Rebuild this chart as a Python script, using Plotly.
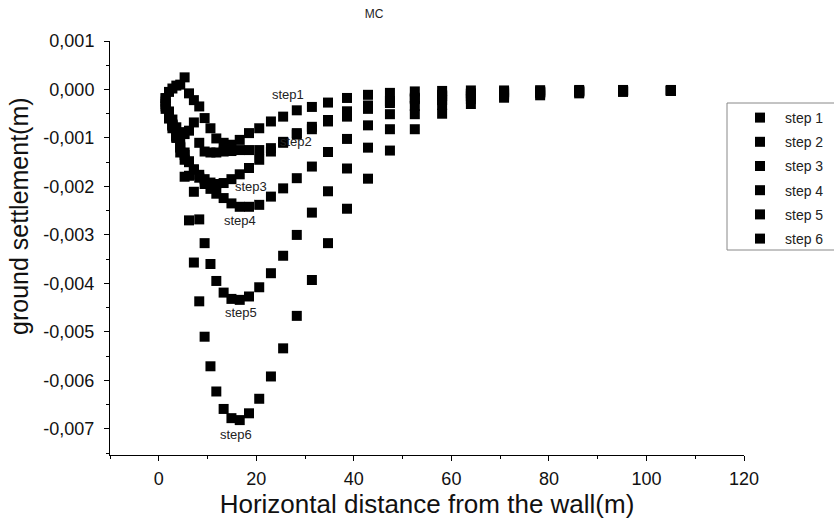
import plotly.graph_objects as go

# Horizontal distance from the wall (m)
distance_m = [1.4, 2.1, 2.8, 3.6, 4.4, 5.3, 6.2, 7.2, 8.3, 9.4, 10.6, 11.8, 13.3, 14.9,
              16.6, 18.5, 20.6, 23.0, 25.5, 28.3, 31.4, 34.7, 38.6, 42.9, 47.4, 52.5,
              58.1, 64.0, 70.8, 78.2, 86.2, 95.2, 105.0]

# Ground settlement (m) for each excavation step
step1 = [-0.00018, -0.00005, 0.00002, 0.00008, 0.00010, 0.00025, -0.00008, -0.00022,
         -0.00035, -0.00059, -0.00080, -0.00101, -0.00110, -0.00114, -0.00104, -0.00090,
         -0.00080, -0.00066, -0.00056, -0.00043, -0.00036, -0.00027, -0.000175, -0.00011,
         -0.00007, -0.00004, -0.00003, -0.00002, -0.00002, -0.000015, -0.00001, -0.00001, -0.00001]
step2 = [-0.00030, -0.00046, -0.00062, -0.00078, -0.00088, -0.00092, -0.00085, -0.00068,
         -0.00110, -0.00128, -0.00130, -0.00130, -0.00128, -0.00127, -0.00125, -0.00125,
         -0.00125, -0.00121, -0.00108, -0.00090, -0.00077, -0.00063, -0.00045, -0.00033,
         -0.00024, -0.00017, -0.00011, -0.00008, -0.00005, -0.00004, -0.00003, -0.00002, -0.00002]
step3 = [-0.00040, -0.00060, -0.00080, -0.00100, -0.00118, -0.00135, -0.00150, -0.00165,
         -0.00176, -0.00185, -0.00192, -0.00195, -0.00193, -0.00185, -0.00175, -0.00162,
         -0.00145, -0.00128, -0.00110, -0.00093, -0.00082, -0.00066, -0.00056, -0.00040,
         -0.00028, -0.00020, -0.00014, -0.00009, -0.00006, -0.00005, -0.00004, -0.00003, -0.00002]
step4 = [-0.00035, -0.00055, -0.00075, -0.00095, -0.00112, -0.00130, -0.00148, -0.00165,
         -0.00182, -0.00195, -0.00205, -0.00215, -0.00224, -0.00235, -0.00242, -0.00242,
         -0.00238, -0.00221, -0.00204, -0.00183, -0.00159, -0.00129, -0.00102, -0.00074,
         -0.00051, -0.00034, -0.00022, -0.00014, -0.00009, -0.00006, -0.00004, -0.00003, -0.00002]
step5 = [-0.00025, -0.00046, -0.00072, -0.00097, -0.00120, -0.00145, -0.00178, -0.00211,
         -0.00268, -0.00317, -0.00360, -0.00395, -0.00419, -0.00432, -0.00434, -0.00427,
         -0.00408, -0.00379, -0.00343, -0.00300, -0.00254, -0.00210, -0.00163, -0.00120,
         -0.00082, -0.00051, -0.00032, -0.00020, -0.00012, -0.00008, -0.00005, -0.00004, -0.00003]
step6 = [-0.00018, -0.00046, -0.00073, -0.00097, -0.00130, -0.00180, -0.00270, -0.00357,
         -0.00437, -0.00510, -0.00571, -0.00623, -0.00659, -0.00678, -0.00682, -0.00668,
         -0.00638, -0.00592, -0.00534, -0.00467, -0.00393, -0.00317, -0.00246, -0.00184,
         -0.00126, -0.00082, -0.00050, -0.00030, -0.00017, -0.00012, -0.00008, -0.00005, -0.00003]

series_names = ["step 1", "step 2", "step 3", "step 4", "step 5", "step 6"]
series_values = [step1, step2, step3, step4, step5, step6]

# Curve labels written inside the plot
label_texts = ["step1", "step2", "step3", "step4", "step5", "step6"]
label_x = [26.4, 28.1, 19.0, 16.6, 16.8, 15.9]
label_y = [-0.000113, -0.00108, -0.0020, -0.00271, -0.00461, -0.00712]

# Axis ticks
y_tickvals = [0.001, 0.0, -0.001, -0.002, -0.003, -0.004, -0.005, -0.006, -0.007]
y_ticktext = ["0,001", "0,000", "-0,001", "-0,002", "-0,003", "-0,004", "-0,005", "-0,006", "-0,007"]
x_tickvals = [0, 20, 40, 60, 80, 100, 120]
x_ticktext = ["0", "20", "40", "60", "80", "100", "120"]

FONT = "Liberation Sans, Arial, sans-serif"
W, H = 834, 519
L, R, T, B = 110, 90, 41, 64
pw, ph = W - L - R, H - T - B


def px2paper_x(px):
    return (px - L) / pw


def px2paper_y(py):
    return (H - B - py) / ph


fig = go.Figure()
for i, (name, vals) in enumerate(zip(series_names, series_values)):
    fig.add_trace(go.Scatter(
        x=distance_m, y=vals, mode="markers", name=name, legendgroup=f"g{i}",
        marker=dict(symbol="square", size=10, color="black", line=dict(width=0)),
    ))

for t, lx, ly in zip(label_texts, label_x, label_y):
    fig.add_annotation(x=lx, y=ly, text=t, showarrow=False,
                       font=dict(family=FONT, size=13, color="#222222"))

# y-axis title (placed as in the original, slightly above the axis centre)
fig.add_annotation(xref="paper", yref="paper", x=px2paper_x(19), y=px2paper_y(216),
                   text="ground settlement(m)", textangle=-90, showarrow=False,
                   xanchor="center", yanchor="middle",
                   font=dict(family=FONT, size=25, color="#111111"))

# legend frame
fig.add_shape(type="rect", xref="paper", yref="paper",
              x0=px2paper_x(727), x1=px2paper_x(845),
              y0=px2paper_y(103), y1=px2paper_y(250),
              line=dict(color="#888888", width=1), fillcolor="rgba(0,0,0,0)")

fig.update_layout(
    width=W, height=H,
    margin=dict(l=L, r=R, t=T, b=B, autoexpand=False),
    paper_bgcolor="white", plot_bgcolor="white",
    font=dict(family=FONT, size=16, color="#111111"),
    title=dict(text="MC", x=374 / W, xanchor="center",
               y=1 - 14 / H, yanchor="middle",
               font=dict(family=FONT, size=12, color="#222222")),
    showlegend=True,
    legend=dict(x=px2paper_x(735), y=px2paper_y(102), xanchor="left", yanchor="top",
                bgcolor="rgba(0,0,0,0)", borderwidth=0,
                font=dict(family=FONT, size=14, color="#222222"),
                itemwidth=40, tracegroupgap=3),
    xaxis=dict(range=[-10, 120], showgrid=False, zeroline=False,
               showline=True, linecolor="black", linewidth=1,
               ticks="outside", ticklen=5, tickcolor="black",
               tickvals=x_tickvals, ticktext=x_ticktext,
               tickfont=dict(size=18), ticklabelstandoff=2,
               minor=dict(dtick=10, tick0=0, ticks="outside", ticklen=3, tickcolor="black"),
               title=dict(text="Horizontal distance from the wall(m)",
                          font=dict(size=26), standoff=3)),
    yaxis=dict(range=[-0.00754, 0.001], showgrid=False, zeroline=False,
               showline=True, linecolor="black", linewidth=1,
               ticks="outside", ticklen=5, tickcolor="black",
               tickvals=y_tickvals, ticktext=y_ticktext,
               tickfont=dict(size=18), ticklabelstandoff=6,
               minor=dict(dtick=0.0005, tick0=0, ticks="outside", ticklen=3, tickcolor="black")),
)

fig.write_html("out.html")
